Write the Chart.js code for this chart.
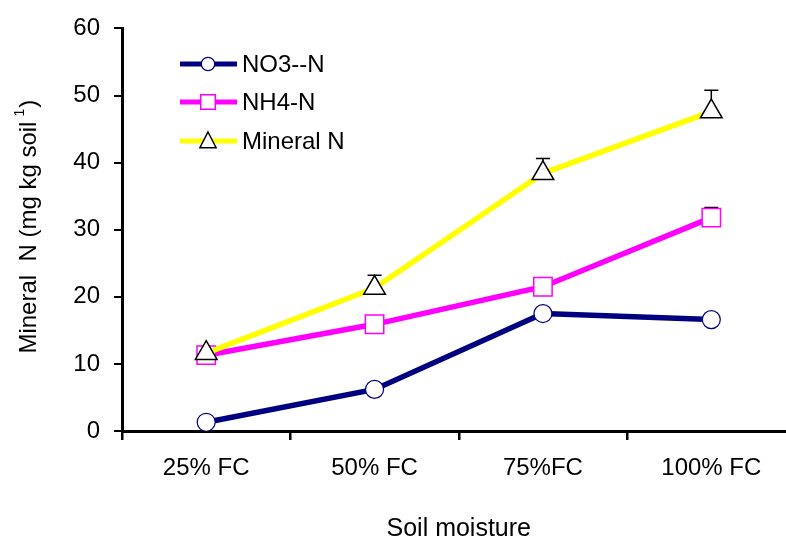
<!DOCTYPE html>
<html>
<head>
<meta charset="utf-8">
<script src="https://cdn.jsdelivr.net/npm/chart.js@4.4.1/dist/chart.umd.min.js"></script>
<style>
  html, body { margin: 0; padding: 0; background: #fff; overflow: hidden; }
  #wrap { width: 786px; height: 542px; overflow: hidden; }
  canvas { display: block; }
</style>
</head>
<body>
<!-- the plot runs on past the right edge of the frame, so the canvas is wider than its frame -->
<div id="wrap"><canvas id="c" width="810" height="542"></canvas></div>
<script>
// Soil moisture treatments
const categories = ['25% FC', '50% FC', '75%FC', '100% FC'];

// Mineral nitrogen fractions (mg kg soil-1)
const no3N     = [1.3, 6.2, 17.5, 16.6];
const nh4N     = [11.3, 15.9, 21.5, 31.8];
const mineralN = [11.6, 21.3, 38.4, 47.6];

// Upper error bars (same units)
const no3Err     = [0, 0, 0, 0];
const nh4Err     = [0, 0, 0, 1.5];
const mineralErr = [0, 1.9, 2.2, 3.2];

// Y axis range and ticks
const yMin = 0, yMax = 60, yStep = 10;

const seriesLabels = ['NO3--N', 'NH4-N', 'Mineral N'];
const FONT = '"Liberation Sans", Arial, sans-serif';

// Upper error bars, drawn beneath lines and markers
const errorBars = {
  id: 'errorBars',
  beforeDatasetsDraw(chart) {
    const ctx = chart.ctx;
    const ys = chart.scales.y;
    chart.data.datasets.forEach((ds, i) => {
      const meta = chart.getDatasetMeta(i);
      (ds.errors || []).forEach((e, j) => {
        if (!e) return;
        const x = meta.data[j].x;
        const y0 = ys.getPixelForValue(ds.data[j]);
        const y1 = ys.getPixelForValue(ds.data[j] + e);
        ctx.save();
        ctx.strokeStyle = '#000';
        ctx.lineWidth = 1.5;
        ctx.beginPath();
        ctx.moveTo(x, y0); ctx.lineTo(x, y1);
        ctx.moveTo(x - 7, y1); ctx.lineTo(x + 7, y1);
        ctx.stroke();
        ctx.restore();
      });
    });
  }
};

// Marker shape used in the legend box
function marker(ctx, style, x, y, r, stroke, lw) {
  ctx.save();
  ctx.fillStyle = '#fff';
  ctx.strokeStyle = stroke;
  ctx.lineWidth = lw;
  ctx.beginPath();
  if (style === 'circle') {
    ctx.arc(x, y, r, 0, Math.PI * 2);
  } else if (style === 'rect') {
    ctx.rect(x - r, y - r, 2 * r, 2 * r);
  } else {
    ctx.moveTo(x, y - r);
    ctx.lineTo(x + r * 0.9, y + r * 0.75);
    ctx.lineTo(x - r * 0.9, y + r * 0.75);
    ctx.closePath();
  }
  ctx.fill();
  ctx.stroke();
  ctx.restore();
}

// Legend inside the plot area plus the rotated y-axis title
const decorations = {
  id: 'decorations',
  afterDraw(chart) {
    const ctx = chart.ctx;
    const rows = [64, 102, 141];
    const sizes = [6.7, 7.3, 9];
    chart.data.datasets.forEach((ds, i) => {
      const y = rows[i];
      ctx.save();
      ctx.strokeStyle = ds.borderColor;
      ctx.lineWidth = 5;
      ctx.beginPath();
      ctx.moveTo(180, y); ctx.lineTo(237, y);
      ctx.stroke();
      ctx.restore();
      marker(ctx, ds.pointStyle, 208, y, sizes[i], ds.pointBorderColor, ds.pointBorderWidth);
      ctx.save();
      ctx.fillStyle = '#000';
      ctx.font = '24px ' + FONT;
      ctx.textBaseline = 'middle';
      ctx.textAlign = 'left';
      ctx.fillText(ds.label, 242, y + 1);
      ctx.restore();
    });

    // y-axis title with superscript
    const area = chart.chartArea;
    const cy = (area.top + area.bottom) / 2 - 3;
    ctx.save();
    ctx.translate(36, cy);
    ctx.rotate(-Math.PI / 2);
    ctx.fillStyle = '#000';
    ctx.textBaseline = 'alphabetic';
    const main = 'Mineral  N (mg kg soil';
    const sup = '1';
    const tail = ')';
    ctx.font = '24px ' + FONT;
    const wMain = ctx.measureText(main).width;
    const wTail = ctx.measureText(tail).width;
    ctx.font = '14px ' + FONT;
    const wSup = ctx.measureText(sup).width;
    const total = wMain + 5 + wSup + 1 + wTail;
    let x = -total / 2;
    ctx.font = '24px ' + FONT;
    ctx.fillText(main, x, 0);
    x += wMain + 5;
    ctx.font = '14px ' + FONT;
    ctx.fillText(sup, x, -12);
    x += wSup + 1;
    ctx.font = '24px ' + FONT;
    ctx.fillText(tail, x, 0);
    ctx.restore();
  }
};

new Chart(document.getElementById('c'), {
  type: 'line',
  data: {
    labels: categories,
    datasets: [
      {
        label: seriesLabels[0], data: no3N, errors: no3Err,
        borderColor: '#000080', borderWidth: 5.5,
        pointStyle: 'circle', pointRadius: 9, pointHoverRadius: 9,
        pointBackgroundColor: '#fff', pointBorderColor: '#000080', pointBorderWidth: 1.2,
        order: 2
      },
      {
        label: seriesLabels[1], data: nh4N, errors: nh4Err,
        borderColor: '#ff00ff', borderWidth: 5.5,
        pointStyle: 'rect', pointRadius: 13, pointHoverRadius: 13,
        pointBackgroundColor: '#fff', pointBorderColor: '#ff00ff', pointBorderWidth: 1.5,
        order: 1
      },
      {
        label: seriesLabels[2], data: mineralN, errors: mineralErr,
        borderColor: '#ffff00', borderWidth: 5.5,
        pointStyle: 'triangle', pointRadius: 12.5, pointHoverRadius: 12.5,
        pointBackgroundColor: '#fff', pointBorderColor: '#000', pointBorderWidth: 1.5,
        order: 0
      }
    ]
  },
  options: {
    responsive: false,
    animation: false,
    events: [],
    layout: { padding: { top: 25, right: 0, bottom: 0, left: 0 } },
    plugins: { legend: { display: false }, tooltip: { enabled: false } },
    elements: { line: { tension: 0 } },
    scales: {
      x: {
        offset: true,
        grid: { display: true, offset: true, drawOnChartArea: false, drawTicks: true,
                tickLength: 9, color: '#000', lineWidth: 2.5 },
        border: { display: true, color: '#000', width: 3 },
        ticks: { color: '#000', padding: 14, font: { family: FONT, size: 24 }, maxRotation: 0 },
        title: { display: true, text: 'Soil moisture', color: '#000',
                 font: { family: FONT, size: 25, lineHeight: 1 }, padding: { top: 0, bottom: 0 } },
        afterFit(scale) { scale.height = 111; }
      },
      y: {
        min: yMin, max: yMax,
        grid: { display: true, drawOnChartArea: false, drawTicks: true,
                tickLength: 8, color: '#000', lineWidth: 2 },
        border: { display: true, color: '#000', width: 3 },
        ticks: { stepSize: yStep, color: '#000', padding: 14, font: { family: FONT, size: 24 } },
        afterFit(scale) { scale.width = 122; }
      }
    }
  },
  plugins: [errorBars, decorations]
});
</script>
</body>
</html>
